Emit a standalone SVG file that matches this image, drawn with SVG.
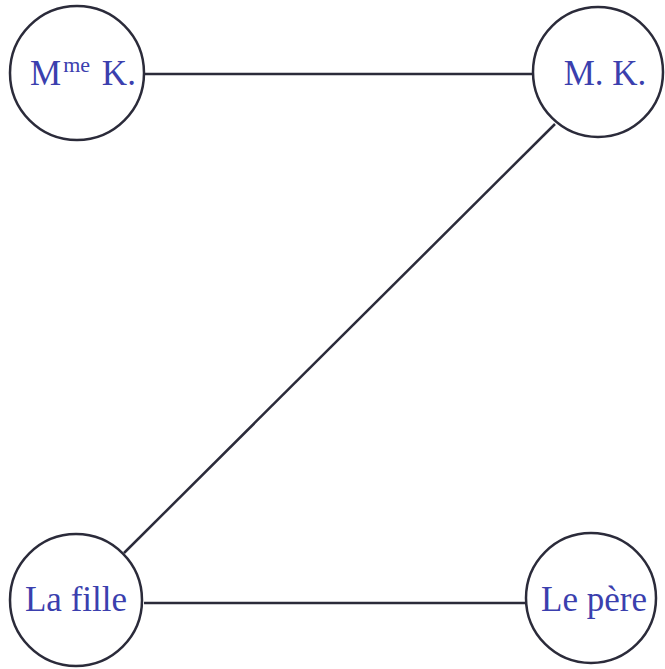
<svg xmlns="http://www.w3.org/2000/svg" width="665" height="669" viewBox="0 0 665 669">
<style>
.node{fill:#fff;stroke:#2b2b3a;stroke-width:2.5}
.edge{stroke:#2b2b3a;stroke-width:2.5;fill:none}
.lbl{font-family:"Liberation Serif","Times New Roman",serif;font-size:35px;fill:#3b3fae;text-anchor:middle}
</style>
<rect width="665" height="669" fill="#fff"/>
<g id="connectors">
<line class="edge" x1="144" y1="74" x2="533" y2="74"/>
<line class="edge" x1="144" y1="603" x2="526" y2="603"/>
<line class="edge" x1="555" y1="124" x2="124" y2="553"/>
</g>
<g id="mme-k">
<circle class="node" cx="77" cy="73" r="67"/>
<text class="lbl" x="83" y="85">M<tspan font-size="22" dx="2" dy="-13">me</tspan><tspan dx="3" dy="13"> K.</tspan></text>
</g>
<g id="m-k">
<circle class="node" cx="598" cy="72" r="65"/>
<text class="lbl" x="605" y="85">M. K.</text>
</g>
<g id="la-fille">
<circle class="node" cx="76" cy="600" r="66"/>
<text class="lbl" x="76" y="611">La fille</text>
</g>
<g id="le-pere">
<circle class="node" cx="591" cy="598" r="65"/>
<text class="lbl" x="594" y="611">Le père</text>
</g>
</svg>
